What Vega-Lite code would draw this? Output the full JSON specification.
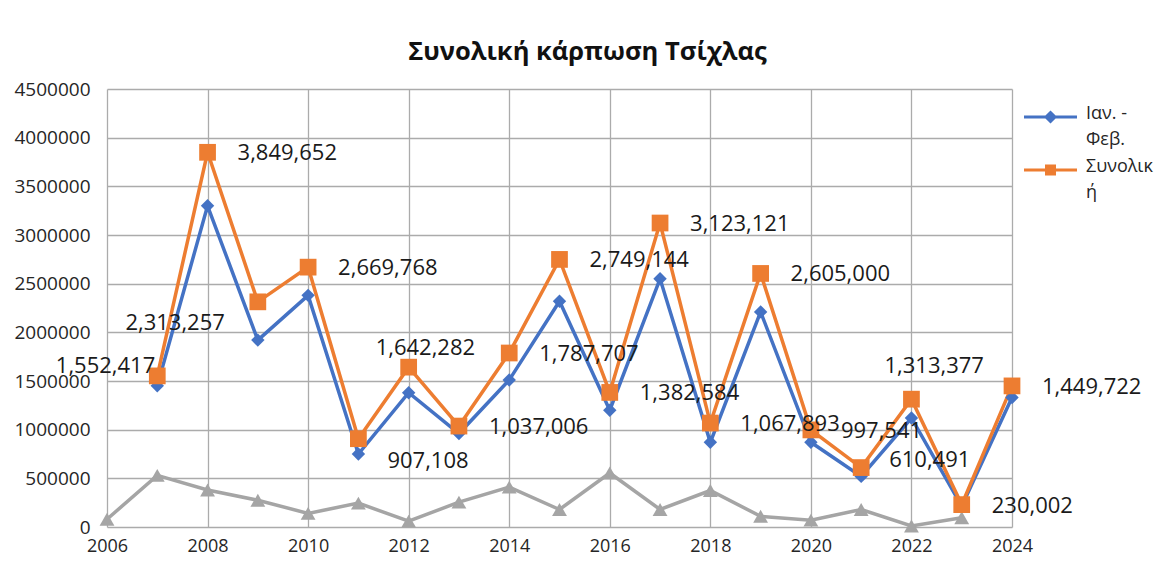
{
  "$schema": "https://vega.github.io/schema/vega-lite/v6.json",
  "width": 905,
  "height": 438,
  "autosize": {"type": "none"},
  "padding": {"left": 107, "top": 89, "right": 152, "bottom": 41},
  "background": "white",
  "config": {
    "view": {"stroke": null},
    "font": "Open Sans",
    "axis": {"gridColor": "#ababab", "gridWidth": 1.3, "domain": false, "ticks": false, "labelFont": "Open Sans", "labelColor": "#262626", "title": null}
  },
  "title": {"text": "Συνολική κάρπωση Τσίχλας", "font": "Open Sans", "fontSize": 25.5, "fontWeight": "bold", "color": "#111111", "anchor": "middle", "dx": 28, "offset": 15},
  "data": {"values": [
    {"year": 2006, "series": "Υπόλοιπο", "value": 80000},
    {"year": 2007, "series": "Υπόλοιπο", "value": 530000},
    {"year": 2008, "series": "Υπόλοιπο", "value": 380000},
    {"year": 2009, "series": "Υπόλοιπο", "value": 275000},
    {"year": 2010, "series": "Υπόλοιπο", "value": 140000},
    {"year": 2011, "series": "Υπόλοιπο", "value": 245000},
    {"year": 2012, "series": "Υπόλοιπο", "value": 60000},
    {"year": 2013, "series": "Υπόλοιπο", "value": 255000},
    {"year": 2014, "series": "Υπόλοιπο", "value": 410000},
    {"year": 2015, "series": "Υπόλοιπο", "value": 180000},
    {"year": 2016, "series": "Υπόλοιπο", "value": 555000},
    {"year": 2017, "series": "Υπόλοιπο", "value": 180000},
    {"year": 2018, "series": "Υπόλοιπο", "value": 375000},
    {"year": 2019, "series": "Υπόλοιπο", "value": 110000},
    {"year": 2020, "series": "Υπόλοιπο", "value": 70000},
    {"year": 2021, "series": "Υπόλοιπο", "value": 180000},
    {"year": 2022, "series": "Υπόλοιπο", "value": 10000},
    {"year": 2023, "series": "Υπόλοιπο", "value": 95000},
    {"year": 2007, "series": "Ιαν. - Φεβ.", "value": 1450000},
    {"year": 2008, "series": "Ιαν. - Φεβ.", "value": 3300000},
    {"year": 2009, "series": "Ιαν. - Φεβ.", "value": 1920000},
    {"year": 2010, "series": "Ιαν. - Φεβ.", "value": 2380000},
    {"year": 2011, "series": "Ιαν. - Φεβ.", "value": 750000},
    {"year": 2012, "series": "Ιαν. - Φεβ.", "value": 1380000},
    {"year": 2013, "series": "Ιαν. - Φεβ.", "value": 960000},
    {"year": 2014, "series": "Ιαν. - Φεβ.", "value": 1510000},
    {"year": 2015, "series": "Ιαν. - Φεβ.", "value": 2320000},
    {"year": 2016, "series": "Ιαν. - Φεβ.", "value": 1200000},
    {"year": 2017, "series": "Ιαν. - Φεβ.", "value": 2550000},
    {"year": 2018, "series": "Ιαν. - Φεβ.", "value": 870000},
    {"year": 2019, "series": "Ιαν. - Φεβ.", "value": 2210000},
    {"year": 2020, "series": "Ιαν. - Φεβ.", "value": 870000},
    {"year": 2021, "series": "Ιαν. - Φεβ.", "value": 520000},
    {"year": 2022, "series": "Ιαν. - Φεβ.", "value": 1120000},
    {"year": 2023, "series": "Ιαν. - Φεβ.", "value": 215000},
    {"year": 2024, "series": "Ιαν. - Φεβ.", "value": 1330000},
    {"year": 2007, "series": "Συνολική", "value": 1552417},
    {"year": 2008, "series": "Συνολική", "value": 3849652},
    {"year": 2009, "series": "Συνολική", "value": 2313257},
    {"year": 2010, "series": "Συνολική", "value": 2669768},
    {"year": 2011, "series": "Συνολική", "value": 907108},
    {"year": 2012, "series": "Συνολική", "value": 1642282},
    {"year": 2013, "series": "Συνολική", "value": 1037006},
    {"year": 2014, "series": "Συνολική", "value": 1787707},
    {"year": 2015, "series": "Συνολική", "value": 2749144},
    {"year": 2016, "series": "Συνολική", "value": 1382584},
    {"year": 2017, "series": "Συνολική", "value": 3123121},
    {"year": 2018, "series": "Συνολική", "value": 1067893},
    {"year": 2019, "series": "Συνολική", "value": 2605000},
    {"year": 2020, "series": "Συνολική", "value": 997541},
    {"year": 2021, "series": "Συνολική", "value": 610491},
    {"year": 2022, "series": "Συνολική", "value": 1313377},
    {"year": 2023, "series": "Συνολική", "value": 230002},
    {"year": 2024, "series": "Συνολική", "value": 1449722}
  ]},
  "encoding": {
    "x": {"field": "year", "type": "quantitative",
      "scale": {"domain": [2006, 2024], "nice": false, "zero": false},
      "axis": {"values": [2006, 2008, 2010, 2012, 2014, 2016, 2018, 2020, 2022, 2024], "format": "d", "labelFontSize": 18, "labelPadding": 10, "labelFlush": false}},
    "y": {"field": "value", "type": "quantitative",
      "scale": {"domain": [0, 4500000], "nice": false},
      "axis": {"values": [0, 500000, 1000000, 1500000, 2000000, 2500000, 3000000, 3500000, 4000000, 4500000], "format": "d", "labelFontSize": 19, "labelPadding": 17}}
  },
  "layer": [
    {
      "mark": {"type": "line", "strokeWidth": 3.5},
      "encoding": {
        "color": {"field": "series", "type": "nominal",
          "scale": {"domain": ["Ιαν. - Φεβ.", "Συνολική", "Υπόλοιπο"], "range": ["#4472C4", "#ED7D31", "#A5A5A5"]},
          "legend": {
            "values": ["Ιαν. - Φεβ.", "Συνολική"],
            "title": null,
            "orient": "none",
            "legendX": 913,
            "legendY": 19,
            "padding": 0,
            "labelFont": "Open Sans",
            "labelFontSize": 18,
            "labelColor": "#262626",
            "labelOffset": 48,
            "labelBaseline": "top",
            "symbolSize": 100,
            "rowPadding": 9,
            "labelExpr": "datum.label == 'Ιαν. - Φεβ.' ? ['Ιαν. -', 'Φεβ.'] : ['Συνολικ', 'ή']",
            "encode": {
              "symbols": {"update": {
                "shape": {"signal": "datum.value === 'Συνολική' ? 'M-1,0H9.6M3.5,-0.8H5.1V0.8H3.5Z' : 'M-1,0H9.6M4.3,-0.9L5.2,0L4.3,0.9L3.4,0Z'"},
                "fill": {"scale": "color", "field": "value"},
                "stroke": {"scale": "color", "field": "value"},
                "strokeWidth": {"value": 3},
                "fillOpacity": {"value": 1},
                "opacity": {"value": 1}
              }},
              "labels": {"update": {
                "lineHeight": {"value": 26},
                "dy": {"value": -12}
              }}
            }
          }
        }
      }
    },
    {
      "transform": [{"filter": "datum.series === 'Υπόλοιπο'"}],
      "mark": {"type": "point", "filled": true, "opacity": 1, "shape": "triangle-up", "size": 220, "color": "#A5A5A5"}
    },
    {
      "transform": [{"filter": "datum.series === 'Ιαν. - Φεβ.'"}],
      "mark": {"type": "point", "filled": true, "opacity": 1, "shape": "diamond", "size": 180, "color": "#4472C4"}
    },
    {
      "transform": [{"filter": "datum.series === 'Συνολική'"}],
      "mark": {"type": "point", "filled": true, "opacity": 1, "shape": "square", "size": 280, "color": "#ED7D31"}
    },
    {
      "transform": [{"filter": "datum.series === 'Συνολική' && indexof([2007, 2009, 2011, 2012, 2021, 2022], datum.year) < 0"}],
      "mark": {"type": "text", "align": "left", "baseline": "middle", "dx": 30, "dy": 1, "font": "Open Sans", "fontSize": 22, "color": "#1a1a1a"},
      "encoding": {"text": {"field": "value", "type": "quantitative", "format": ",d"}}
    },
    {
      "transform": [{"filter": "datum.series === 'Συνολική' && datum.year === 2007"}],
      "mark": {"type": "text", "align": "right", "baseline": "middle", "dx": -2, "dy": -10, "font": "Open Sans", "fontSize": 22, "color": "#1a1a1a"},
      "encoding": {"text": {"field": "value", "type": "quantitative", "format": ",d"}}
    },
    {
      "transform": [{"filter": "datum.series === 'Συνολική' && datum.year === 2009"}],
      "mark": {"type": "text", "align": "right", "baseline": "middle", "dx": -33, "dy": 21, "font": "Open Sans", "fontSize": 22, "color": "#1a1a1a"},
      "encoding": {"text": {"field": "value", "type": "quantitative", "format": ",d"}}
    },
    {
      "transform": [{"filter": "datum.series === 'Συνολική' && datum.year === 2011"}],
      "mark": {"type": "text", "align": "left", "baseline": "middle", "dx": 29, "dy": 22, "font": "Open Sans", "fontSize": 22, "color": "#1a1a1a"},
      "encoding": {"text": {"field": "value", "type": "quantitative", "format": ",d"}}
    },
    {
      "transform": [{"filter": "datum.series === 'Συνολική' && datum.year === 2012"}],
      "mark": {"type": "text", "align": "left", "baseline": "middle", "dx": -33, "dy": -19, "font": "Open Sans", "fontSize": 22, "color": "#1a1a1a"},
      "encoding": {"text": {"field": "value", "type": "quantitative", "format": ",d"}}
    },
    {
      "transform": [{"filter": "datum.series === 'Συνολική' && datum.year === 2021"}],
      "mark": {"type": "text", "align": "left", "baseline": "middle", "dx": 28, "dy": -8, "font": "Open Sans", "fontSize": 22, "color": "#1a1a1a"},
      "encoding": {"text": {"field": "value", "type": "quantitative", "format": ",d"}}
    },
    {
      "transform": [{"filter": "datum.series === 'Συνολική' && datum.year === 2022"}],
      "mark": {"type": "text", "align": "left", "baseline": "middle", "dx": -27, "dy": -33, "font": "Open Sans", "fontSize": 22, "color": "#1a1a1a"},
      "encoding": {"text": {"field": "value", "type": "quantitative", "format": ",d"}}
    }
  ]
}
